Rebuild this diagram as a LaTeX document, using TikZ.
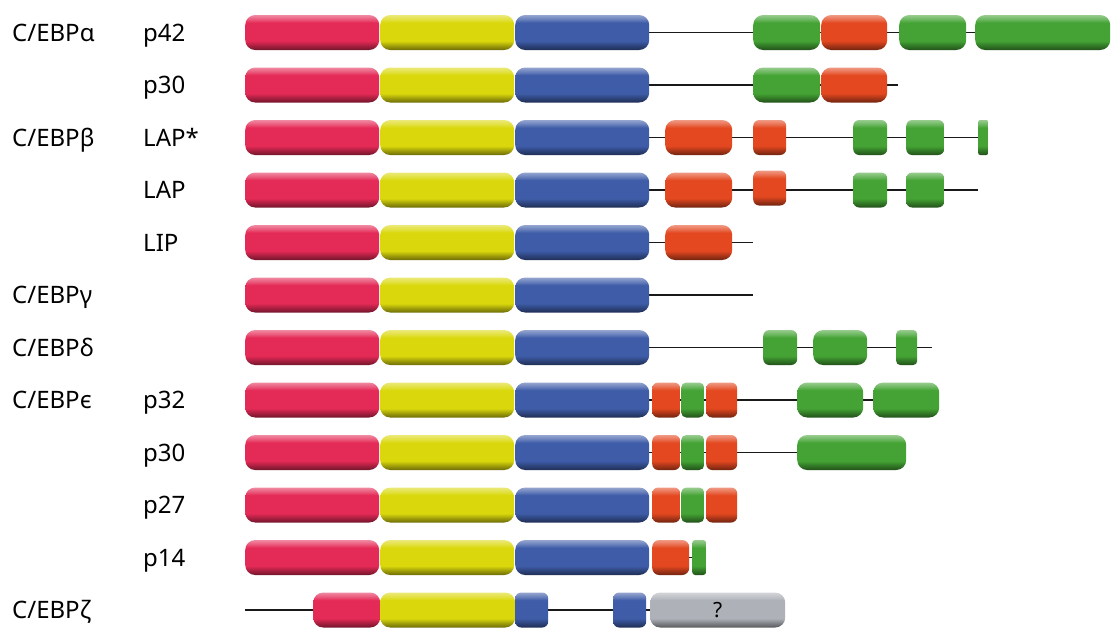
\documentclass[tikz,border=0pt]{standalone}
\usepackage{fontspec}
\setmainfont{Noto Sans}
\usepackage{tikz}
\usetikzlibrary{backgrounds}

% domain colours
\definecolor{pkc}{RGB}{228,42,86}
\definecolor{ylc}{RGB}{218,216,12}
\definecolor{blc}{RGB}{62,92,168}
\definecolor{grc}{RGB}{68,163,52}
\definecolor{ogc}{RGB}{227,72,32}
\definecolor{gyc}{RGB}{174,177,184}
\colorlet{domc}{gyc}

% raised look: light rim on top, dark rim underneath
\pgfdeclareverticalshading[domc]{domshade}{100bp}{%
  color(0bp)=(domc!50!black); color(25bp)=(domc!50!black);
  color(31bp)=(domc!72!black); color(38bp)=(domc);
  color(64bp)=(domc); color(69bp)=(domc!78!white);
  color(75bp)=(domc!55!white); color(100bp)=(domc!55!white)}

\begin{document}
\begin{tikzpicture}[
    x = 1pt, y = -1pt,
    dom/.style={rectangle, inner sep=0pt, minimum height=35pt, anchor=west,
                rounded corners=10pt, shading=domshade},
    pk/.style={dom, /utils/exec={\colorlet{domc}{pkc}}},
    yl/.style={dom, /utils/exec={\colorlet{domc}{ylc}}},
    bl/.style={dom, /utils/exec={\colorlet{domc}{blc}}},
    gr/.style={dom, /utils/exec={\colorlet{domc}{grc}}},
    og/.style={dom, /utils/exec={\colorlet{domc}{ogc}}},
    gy/.style={dom, /utils/exec={\colorlet{domc}{gyc}}},
    lbl/.style={anchor=base west, inner sep=0pt, font=\fontsize{24}{28}\selectfont},
    chain/.style={line width=1.8pt, black!90}
]
\useasboundingbox (0,0) rectangle (1113,630);

% --- labels ---
\node[lbl] (la)  at (12,41)    {C/EBPα};
\node[lbl] (lb)  at (12,146)   {C/EBPβ};
\node[lbl] (lg)  at (12,303.5) {C/EBPγ};
\node[lbl] (ld)  at (12,356)   {C/EBPδ};
\node[lbl] (le)  at (12,408.5) {C/EBPϵ};
\node[lbl] (lz)  at (12,618.5) {C/EBPζ};

\node[lbl] (la42) at (143,41)    {p42};
\node[lbl] (la30) at (143,93.5)  {p30};
\node[lbl] (lbs)  at (143,146)   {LAP*};
\node[lbl] (lbl)  at (143,198.5) {LAP};
\node[lbl] (lbi)  at (143,251)   {LIP};
\node[lbl] (le32) at (143,408.5) {p32};
\node[lbl] (le30) at (143,461)   {p30};
\node[lbl] (le27) at (143,513.5) {p27};
\node[lbl] (le14) at (143,566)   {p14};

% --- C/EBPa ---
\node[pk, minimum width=134pt] (a42p) at (245,32.5) {};
\node[yl, minimum width=134pt] (a42y) at (380,32.5) {};
\node[bl, minimum width=134pt] (a42b) at (515,32.5) {};
\node[gr, minimum width=67pt]  (a42g1) at (753,32.5) {};
\node[og, minimum width=66pt]  (a42r1) at (821,32.5) {};
\node[gr, minimum width=67pt]  (a42g2) at (899,32.5) {};
\node[gr, minimum width=135pt] (a42g3) at (975,32.5) {};

\node[pk, minimum width=134pt] (a30p) at (245,85) {};
\node[yl, minimum width=134pt] (a30y) at (380,85) {};
\node[bl, minimum width=134pt] (a30b) at (515,85) {};
\node[gr, minimum width=67pt]  (a30g1) at (753,85) {};
\node[og, minimum width=66pt]  (a30r1) at (821,85) {};
\coordinate (a30e) at (898,85);

% --- C/EBPb ---
\node[pk, minimum width=134pt] (bsp) at (245,137.5) {};
\node[yl, minimum width=134pt] (bsy) at (380,137.5) {};
\node[bl, minimum width=134pt] (bsb) at (515,137.5) {};
\node[og, minimum width=67pt]  (bsr1) at (665,137.5) {};
\node[og, minimum width=33pt, rounded corners=6pt] (bsr2) at (753,137.5) {};
\node[gr, minimum width=34pt, rounded corners=6pt] (bsg1) at (853,137.5) {};
\node[gr, minimum width=38pt, rounded corners=6pt] (bsg2) at (906,137.5) {};
\node[gr, minimum width=10pt, rounded corners=2pt] (bsg3) at (978,137.5) {};

\node[pk, minimum width=134pt] (blp) at (245,190) {};
\node[yl, minimum width=134pt] (bly) at (380,190) {};
\node[bl, minimum width=134pt] (blb) at (515,190) {};
\node[og, minimum width=67pt]  (blr1) at (665,190) {};
\node[og, minimum width=33pt, rounded corners=6pt] (blr2) at (753,188) {};
\node[gr, minimum width=34pt, rounded corners=6pt] (blg1) at (853,190) {};
\node[gr, minimum width=38pt, rounded corners=6pt] (blg2) at (906,190) {};
\coordinate (ble) at (978,190);

\node[pk, minimum width=134pt] (bip) at (245,242.5) {};
\node[yl, minimum width=134pt] (biy) at (380,242.5) {};
\node[bl, minimum width=134pt] (bib) at (515,242.5) {};
\node[og, minimum width=67pt]  (bir1) at (665,242.5) {};
\coordinate (bie) at (753,242.5);

% --- C/EBPg ---
\node[pk, minimum width=134pt] (gp) at (245,295) {};
\node[yl, minimum width=134pt] (gy) at (380,295) {};
\node[bl, minimum width=134pt] (gb) at (515,295) {};
\coordinate (ge) at (753,295);

% --- C/EBPd ---
\node[pk, minimum width=134pt] (dp) at (245,347.5) {};
\node[yl, minimum width=134pt] (dy) at (380,347.5) {};
\node[bl, minimum width=134pt] (db) at (515,347.5) {};
\node[gr, minimum width=34pt, rounded corners=6pt] (dg1) at (763,347.5) {};
\node[gr, minimum width=54pt]  (dg2) at (813,347.5) {};
\node[gr, minimum width=21pt, rounded corners=4pt] (dg3) at (896,347.5) {};
\coordinate (de) at (932,347.5);

% --- C/EBPe ---
\node[pk, minimum width=134pt] (e32p) at (245,400) {};
\node[yl, minimum width=134pt] (e32y) at (380,400) {};
\node[bl, minimum width=134pt] (e32b) at (515,400) {};
\node[og, minimum width=28pt, rounded corners=6pt] (e32r1) at (652,400) {};
\node[gr, minimum width=23pt, rounded corners=5pt] (e32g1) at (681,400) {};
\node[og, minimum width=31pt, rounded corners=6pt] (e32r2) at (706,400) {};
\node[gr, minimum width=66pt]  (e32g2) at (797,400) {};
\node[gr, minimum width=66pt]  (e32g3) at (873,400) {};

\node[pk, minimum width=134pt] (e30p) at (245,452.5) {};
\node[yl, minimum width=134pt] (e30y) at (380,452.5) {};
\node[bl, minimum width=134pt] (e30b) at (515,452.5) {};
\node[og, minimum width=28pt, rounded corners=6pt] (e30r1) at (652,452.5) {};
\node[gr, minimum width=23pt, rounded corners=5pt] (e30g1) at (681,452.5) {};
\node[og, minimum width=31pt, rounded corners=6pt] (e30r2) at (706,452.5) {};
\node[gr, minimum width=109pt] (e30g2) at (797,452.5) {};

\node[pk, minimum width=134pt] (e27p) at (245,505) {};
\node[yl, minimum width=134pt] (e27y) at (380,505) {};
\node[bl, minimum width=134pt] (e27b) at (515,505) {};
\node[og, minimum width=28pt, rounded corners=6pt] (e27r1) at (652,505) {};
\node[gr, minimum width=23pt, rounded corners=5pt] (e27g1) at (681,505) {};
\node[og, minimum width=31pt, rounded corners=6pt] (e27r2) at (706,505) {};

\node[pk, minimum width=134pt] (e14p) at (245,557.5) {};
\node[yl, minimum width=134pt] (e14y) at (380,557.5) {};
\node[bl, minimum width=134pt] (e14b) at (515,557.5) {};
\node[og, minimum width=37pt, rounded corners=7pt] (e14r1) at (652,557.5) {};
\node[gr, minimum width=14pt, rounded corners=3pt] (e14g1) at (692,557.5) {};

% --- C/EBPz ---
\coordinate (zs) at (245,610);
\node[pk, minimum width=67pt]  (zp) at (313,610) {};
\node[yl, minimum width=135pt] (zy) at (380,610) {};
\node[bl, minimum width=33pt, rounded corners=6pt] (zb1) at (515,610) {};
\node[bl, minimum width=33pt, rounded corners=6pt] (zb2) at (613,610) {};
\node[gy, minimum width=135pt, font=\fontsize{21}{24}\selectfont] (zq) at (650,610) {?};

% --- backbone lines behind the domains ---
\begin{scope}[on background layer]
\draw[chain] (a42b.east) -- (a42g3.west);
\draw[chain] (a30b.east) -- (a30e);
\draw[chain] (bsb.east) -- (bsg3.west);
\draw[chain] (blb.east) -- (ble);
\draw[chain] (bib.east) -- (bie);
\draw[chain] (gb.east) -- (ge);
\draw[chain] (db.east) -- (de);
\draw[chain] (e32b.east) -- (e32g3.west);
\draw[chain] (e30b.east) -- (e30g2.west);
\draw[chain] (e14r1.east) -- (e14g1.west);
\draw[chain] (zs) -- (zq.west);
\end{scope}

\end{tikzpicture}
\end{document}
